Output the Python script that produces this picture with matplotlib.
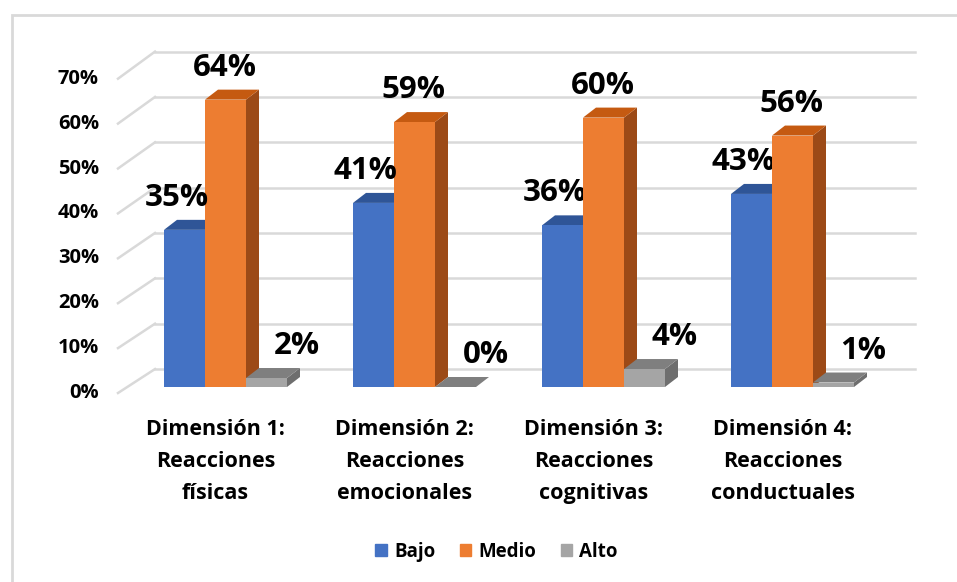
import numpy as np
import matplotlib.pyplot as plt
from matplotlib.patches import Polygon, Patch
import matplotlib

matplotlib.rcParams['font.family'] = ['Open Sans', 'DejaVu Sans']
matplotlib.rcParams['font.weight'] = 'bold'

categories = ['Dimensión 1:\nReacciones\nfísicas',
              'Dimensión 2:\nReacciones\nemocionales',
              'Dimensión 3:\nReacciones\ncognitivas',
              'Dimensión 4:\nReacciones\nconductuales']
series = ['Bajo', 'Medio', 'Alto']
bajo = [35, 41, 36, 43]
medio = [64, 59, 60, 56]
alto = [2, 0, 4, 1]
yticks = [0, 10, 20, 30, 40, 50, 60, 70]

# colours: front, top, side
front = ['#4472C4', '#ED7D31', '#A5A5A5']
top = ['#2F5597', '#C55A11', '#7F7F7F']
side = ['#2B4D88', '#9C4A17', '#6E6E6E']

# pixel geometry of the 3D look, converted to data units
pxy = 4.49          # pixels per percent
pxx = 189.0         # pixels per category
W, H = 957, 582
y0 = 387            # pixel row of 0 %
x0 = 225.5          # pixel column of first group centre

fig = plt.figure(figsize=(W / 100, H / 100), dpi=100)
ax = fig.add_axes([0, 0, 1, 1])
ax.set_xlim(-x0 / pxx, (W - x0) / pxx)
ax.set_ylim(-(H - y0) / pxy, y0 / pxy)
ax.axis('off')

bw = 41 / pxx
ddx, ddy = 13 / pxx, 10 / pxy        # bar depth
wdx, wdy = 37 / pxx, 24 / pxy        # floor front edge -> back wall
lab_dy = -6 / pxy                    # label plane below bar plane

# chart border (only left and top edges fall inside the picture)
ax.add_patch(plt.Rectangle((12 / W, -0.5), 2, 1.5 - 15 / H, transform=fig.transFigure,
                           fill=False, ec='#D9D9D9', lw=2, clip_on=False))

# back wall gridlines and left diagonals
xl = (118 - x0) / pxx
xr = (915 - x0) / pxx
for v in yticks:
    yb = v * 1.01 + 4.0
    yf = v + lab_dy
    ax.plot([xl + wdx, xr], [yb, yb], color='#D9D9D9', lw=1.8, zorder=1)
    ax.plot([xl, xl + wdx], [yf, yb], color='#D9D9D9', lw=1.8, zorder=1)
    ax.text((99 - x0) / pxx, yf, f'{v}%', ha='right', va='center', fontsize=14.5)

x = np.arange(len(categories))
offsets = [-bw, 0, bw]
lab_shift = [-8 / pxx, -1 / pxx, 30 / pxx]
z = 2
for i in range(len(categories)):
    for s, vals in enumerate([bajo, medio, alto]):
        v = vals[i]
        xc = x[i] + offsets[s]
        xa, xb = xc - bw / 2, xc + bw / 2
        ax.bar(xc, v, bw, color=front[s], zorder=z + 2)
        ax.add_patch(Polygon([(xb, 0), (xb + ddx, ddy), (xb + ddx, v + ddy), (xb, v)],
                             closed=True, fc=side[s], ec='none', zorder=z + 1))
        ax.add_patch(Polygon([(xa, v), (xa + ddx, v + ddy), (xb + ddx, v + ddy), (xb, v)],
                             closed=True, fc=top[s], ec='none', zorder=z + 1))
        ax.annotate(f'{v}%', (xc + lab_shift[s], v), xytext=(0, 23), textcoords='offset points',
                    ha='center', va='center', fontsize=22.5, zorder=20)
        z += 3

for i, c in enumerate(categories):
    ax.text(x[i] - 10 / pxx, (y0 - 419) / pxy, c, ha='center', va='top',
            fontsize=15.5, linespacing=1.68)

handles = [Patch(color=front[s], label=series[s]) for s in range(3)]
fig.legend(handles=handles, loc='center', bbox_to_anchor=(0.519, 1 - 552 / H), ncol=3,
           frameon=False, fontsize=13.5, handlelength=0.6, handleheight=0.6,
           handletextpad=0.4, columnspacing=1.3)

fig.savefig('out.png', dpi=100)
